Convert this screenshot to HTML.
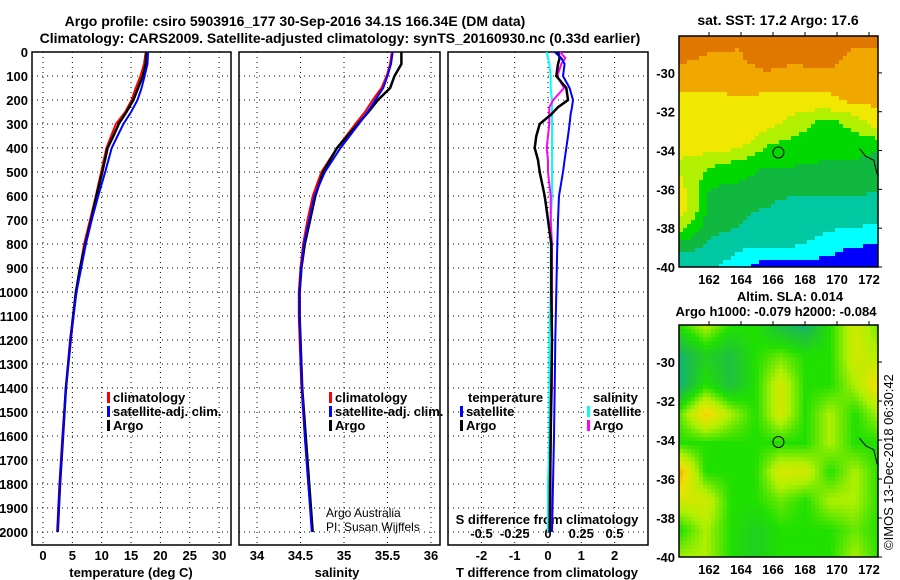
<!DOCTYPE html>
<html><head><meta charset="utf-8"><style>
body{margin:0;background:#fff}
svg{display:block;font-family:"Liberation Sans",sans-serif}
.t{font-weight:bold;font-size:14px}
.k{font-weight:bold;font-size:13px}
</style></head><body>
<svg id="s" width="900" height="580" viewBox="0 0 900 580">
<text class="t" x="295" y="26" text-anchor="middle">Argo profile: csiro 5903916_177 30-Sep-2016 34.1S 166.34E (DM data)</text>
<text class="t" x="340" y="43" text-anchor="middle">Climatology: CARS2009. Satellite-adjusted climatology: synTS_20160930.nc (0.33d earlier)</text>
<text class="t" x="778" y="25" text-anchor="middle">sat. SST: 17.2 Argo: 17.6</text>
<text class="k" x="790" y="301" text-anchor="middle">Altim. SLA: 0.014</text>
<text class="k" x="776" y="316" text-anchor="middle">Argo h1000: -0.079 h2000: -0.084</text>
<text x="893" y="550" font-size="13" transform="rotate(-90 893 550)">©IMOS 13-Dec-2018 06:30:42</text>
<g id="g"></g>
</svg>
<script>
// ---- data ----
const depthT=[0,50,100,150,200,250,300,350,400,500,600,700,800,900,1000,1200,1400,1600,1800,2000];
const tempArgo=[17.6,17.5,17.0,16.2,15.4,14.2,12.9,12.0,11.0,10.1,9.1,8.2,7.2,6.3,5.6,4.7,3.9,3.4,2.9,2.5];
const tempClim=[17.5,17.2,16.6,15.8,15.1,14.0,12.4,11.6,10.8,9.9,9.0,8.0,7.0,6.3,5.6,4.6,3.9,3.3,2.8,2.4];
const tempSat=[17.9,17.8,17.3,16.8,16.1,15.0,13.7,12.7,11.7,10.6,9.4,8.3,7.3,6.5,5.7,4.7,3.9,3.4,2.9,2.5];
const depthS=[0,50,100,150,200,250,300,400,500,600,700,800,900,1000,1100,1200,1400,1600,1800,2000];
const salArgo=[35.66,35.66,35.58,35.53,35.39,35.28,35.16,34.92,34.76,34.67,34.61,34.55,34.51,34.49,34.49,34.5,34.52,34.56,34.6,34.64];
const salClim=[35.55,35.53,35.49,35.43,35.33,35.24,35.13,34.92,34.74,34.64,34.58,34.53,34.5,34.48,34.48,34.49,34.51,34.55,34.59,34.64];
const salSat=[35.56,35.54,35.5,35.45,35.36,35.27,35.17,34.96,34.78,34.66,34.6,34.54,34.51,34.49,34.49,34.5,34.52,34.55,34.59,34.63];
const depthD=[0,25,50,100,150,200,230,260,300,350,400,450,500,600,700,800,1000,1200,1400,1600,1800,2000];
const dTArgo=[0.3,0.35,0.3,0.25,0.55,0.6,0.3,0.1,-0.25,-0.35,-0.4,-0.3,-0.25,-0.1,0.0,0.1,0.1,0.12,0.1,0.08,0.06,0.05];
const dTSat=[0.2,0.4,0.5,0.45,0.65,0.75,0.72,0.68,0.65,0.6,0.55,0.5,0.45,0.33,0.3,0.28,0.25,0.22,0.2,0.18,0.15,0.12];
const dSArgo=[0.09,0.13,0.1,0.07,0.12,0.04,0.01,0.01,0.01,0.0,-0.01,0.0,0.0,0.02,0.02,0.03,0.03,0.03,0.03,0.02,0.02,0.02];
const dSSat=[-0.01,0.0,0.01,0.02,0.02,0.03,0.03,0.03,0.03,0.03,0.03,0.03,0.03,0.03,0.02,0.02,0.02,0.01,0.01,0.01,0.0,0.0];
const depthTicks=[0,100,200,300,400,500,600,700,800,900,1000,1100,1200,1300,1400,1500,1600,1700,1800,1900,2000];
const tempTicks=[0,5,10,15,20,25,30];
const salTicks=[34,34.5,35,35.5,36];
const salTickLabels=["34","34.5","35","35.5","36"];
const dTTicks=[-2,-1,0,1,2];
const dSTicks=[-0.5,-0.25,0,0.25,0.5];
const dSTickLabels=["-0.5","-0.25","0","0.25","0.5"];
const latTicks=[-30,-32,-34,-36,-38,-40];
const lonTicks=[162,164,166,168,170,172];
const sstGrid=[
[1,1,1.5,1.5,1,1,1.5,1.5],
[1.5,2,2,1,1.5,1,2,2],
[2.5,2.5,2.5,2.3,2.5,2.5,2.5,2.5],
[3,3,2.8,3,3,3,2.6,2.5],
[3,3,3,3.2,4.2,5,4.5,3],
[3,3,3.2,4.6,5,5.2,5.2,5.2],
[4,4.6,5,5.5,5.5,5.6,5.6,6],
[3.5,5.5,5.6,6,6,6,6,6.1],
[3,5.8,6,6.2,6.5,6.5,6.4,6.6],
[4.5,6,6.2,6.8,6.6,7,7,7.2],
[6,6.4,7,7,7.1,7.2,7.6,7.6],
[7,7,7.4,8,7.8,8,8,8]];
const slaGrid=[
[2,3,2,2,1,0.5,2,3.5,2.5],
[0.5,1.5,1,2,2.5,2,2,3.5,3],
[0.4,2,1,2,3.5,2,2,3,4.2],
[2.5,4.3,3,2,3.5,2,3,2,3],
[2,2,2,2,2,2,3,2,2],
[4.6,2,2,2,3.6,3.5,2,3,2],
[3.5,3.5,2,2,2.5,2,3,3,2],
[2,3,2,1.5,2,2,2,2.5,2],
[3,3,2,1.5,2,2,2,3,2]];
const argoLon=166.34, argoLat=-34.1;

// ---- helpers ----
const NS="http://www.w3.org/2000/svg";
const G=document.getElementById('g');
function mk(tag,attrs,parent){const e=document.createElementNS(NS,tag);for(const k in attrs)e.setAttribute(k,attrs[k]);(parent||G).appendChild(e);return e;}
const yD=d=>52+d*0.24;
const PT=[32,231], PS=[239,440], PD=[448,648], TOP=52, BOT=545;
const xT=v=>43+v*5.87, xS=v=>257+(v-34)*87, xDT=v=>548+v*33.3, xDS=v=>548+v*133;

function frame(px,name){
  const r=mk('rect',{x:px[0],y:TOP,width:px[1]-px[0],height:BOT-TOP,fill:'none',stroke:'#000','stroke-width':1.5});
  
  
  depthTicks.forEach(d=>{
    const l=mk('line',{x1:px[0],x2:px[1],y1:yD(d),y2:yD(d),stroke:'#000','stroke-dasharray':'1 4'});
    
    
  });
}
function vgrid(xs,fx,px){xs.forEach(v=>{const l=mk('line',{x1:fx(v),x2:fx(v),y1:TOP,y2:BOT,stroke:'#000','stroke-dasharray':'1 4'});
  
  });}
function line(ds,vs,fx,col,name,w){
  const pts=ds.map((d,i)=>fx(vs[i]).toFixed(1)+','+yD(d).toFixed(1)).join(' ');
  const p=mk('polyline',{points:pts,fill:'none',stroke:col,'stroke-width':w||2});
  
  
}
function label(x,y,txt,name,anchor,cls){const t=mk('text',{x:x,y:y,'text-anchor':anchor||'middle',class:cls||'k'});t.textContent=txt;
  
  return t;}
function legend(x,y,col,txt,name){
  const r=mk('rect',{x:x,y:y-10,width:3,height:11,fill:col});
  
  
  label(x+6,y,txt,name,'start');
}

// panel 1
frame(PT,'temperature-panel');vgrid(tempTicks,xT);
depthTicks.forEach(d=>label(28,yD(d)+5,String(d),'depth-tick-label','end'));
tempTicks.forEach(v=>label(xT(v),560,String(v),'temp-tick-label'));
label(131,577,'temperature (deg C)','x-axis-title-temperature');
line(depthT,tempClim,xT,'#f00','temp-climatology-line');
line(depthT,tempArgo,xT,'#000','temp-argo-line',2.5);
line(depthT,tempSat,xT,'#00f','temp-satellite-line');
legend(107,402,'#f00','climatology','legend-climatology');
legend(107,416,'#00f','satellite-adj. clim.','legend-satellite');
legend(107,430,'#000','Argo','legend-argo');

// panel 2
frame(PS,'salinity-panel');vgrid(salTicks,xS);
salTicks.forEach((v,i)=>label(xS(v),560,salTickLabels[i],'sal-tick-label'));
label(337,577,'salinity','x-axis-title-salinity');
line(depthS,salClim,xS,'#f00','sal-climatology-line');
line(depthS,salArgo,xS,'#000','sal-argo-line',2.5);
line(depthS,salSat,xS,'#00f','sal-satellite-line');
legend(329,402,'#f00','climatology','legend-climatology');
legend(329,416,'#00f','satellite-adj. clim.','legend-satellite');
legend(329,430,'#000','Argo','legend-argo');
label(326,517,'Argo Australia','credit-line-1','start','n').setAttribute('font-size','12');
label(326,531,'PI: Susan Wijffels','credit-line-2','start','n').setAttribute('font-size','12');

// panel 3
frame(PD,'difference-panel');vgrid(dTTicks,xDT);
dTTicks.forEach(v=>label(xDT(v),560,String(v),'dT-tick-label'));
label(547,577,'T difference from climatology','x-axis-title-dT');
dSTicks.forEach((v,i)=>label(xDS(v),538,dSTickLabels[i],'dS-tick-label'));
label(547,524,'S difference from climatology','dS-axis-title');
line(depthD,dSSat,xDS,'#0ff','dS-satellite-line');
line(depthD,dSArgo,xDS,'#f0f','dS-argo-line');
line(depthD,dTArgo,xDT,'#000','dT-argo-line',2.5);
line(depthD,dTSat,xDT,'#00f','dT-satellite-line');
label(468,402,'temperature','legend-temperature-heading','start');
legend(460,416,'#00f','satellite','legend-t-satellite');
legend(460,430,'#000','Argo','legend-t-argo');
label(593,402,'salinity','legend-salinity-heading','start');
legend(587,416,'#0ff','satellite','legend-s-satellite');
legend(587,430,'#f0f','Argo','legend-s-argo');

// maps
function lerpGrid(grid,fx,fy){
  const R=grid.length-1,C=grid[0].length-1;
  const x=fx*C,y=fy*R;const i=Math.min(Math.floor(y),R-1),j=Math.min(Math.floor(x),C-1);
  const a=y-i,b=x-j;
  return grid[i][j]*(1-a)*(1-b)+grid[i][j+1]*(1-a)*b+grid[i+1][j]*a*(1-b)+grid[i+1][j+1]*a*b;
}
const sstCols=['#e07800','#e07800','#f0a800','#f0e800','#b0f000','#00d800','#10b840','#00c8a0','#00ffff','#0000ff'];
const sstLevels=[0,1,2,3,4,5,5.8,6.5,7.3,7.8];
function sstColor(v){let c=sstCols[0];for(let i=0;i<sstLevels.length;i++)if(v>=sstLevels[i]-0.25)c=sstCols[i];return c;}
const slaStops=[[0,[0,176,144]],[1,[32,192,64]],[2,[32,224,0]],[3,[176,240,0]],[4,[240,224,0]],[5,[240,160,0]]];
function slaColor(v){v=Math.max(0,Math.min(5,v));const i=Math.min(4,Math.floor(v)),f=v-i;const a=slaStops[i][1],b=slaStops[i+1][1];
  return 'rgb('+a.map((c,k)=>Math.round(c+(b[k]-c)*f)).join(',')+')';}
function map(y0,y1,grid,colf,name){
  const x0=679,x1=878;
  const lonX=l=>709+(l-162)*16;const latY=la=>y0+((-28.1)-la)*(y1-y0)/11.9;
  const grp=mk('g',{});
  
  
  const cs=4;
  for(let y=y0;y<y1;y+=cs)for(let x=x0;x<x1;x+=cs){
    const v=lerpGrid(grid,(x-x0)/(x1-x0),(y-y0)/(y1-y0));
    const r=mk('rect',{x:x,y:y,width:Math.min(cs,x1-x),height:Math.min(cs,y1-y),fill:colf(v)},grp);
  }
  const c=mk('circle',{cx:lonX(argoLon),cy:latY(argoLat),r:5.5,fill:'none',stroke:'#000','stroke-width':1});
  
  
  const co=mk('polyline',{points:[[171.4,-33.9],[171.8,-34.3],[172.3,-34.5],[172.5,-35.2],[172.6,-35.3]].map(p=>lonX(p[0])+','+latY(p[1])).join(' '),fill:'none',stroke:'#000'});
  
  
  const f=mk('rect',{x:x0,y:y0,width:x1-x0,height:y1-y0,fill:'none',stroke:'#000','stroke-width':1.5});
  
  
  latTicks.forEach(la=>{label(675,latY(la)+5,String(la),'lat-tick-label','end');
    mk('line',{x1:x1,x2:x1+4,y1:latY(la),y2:latY(la),stroke:'#000'});});
  lonTicks.forEach(lo=>{label(lonX(lo),y1+17,String(lo),'lon-tick-label');
    mk('line',{x1:lonX(lo),x2:lonX(lo),y1:y0-4,y2:y0,stroke:'#000'});});
}
map(36,267,sstGrid,sstColor,'sst-map');
map(325,557,slaGrid,slaColor,'sla-map');
</script>
</body></html>
